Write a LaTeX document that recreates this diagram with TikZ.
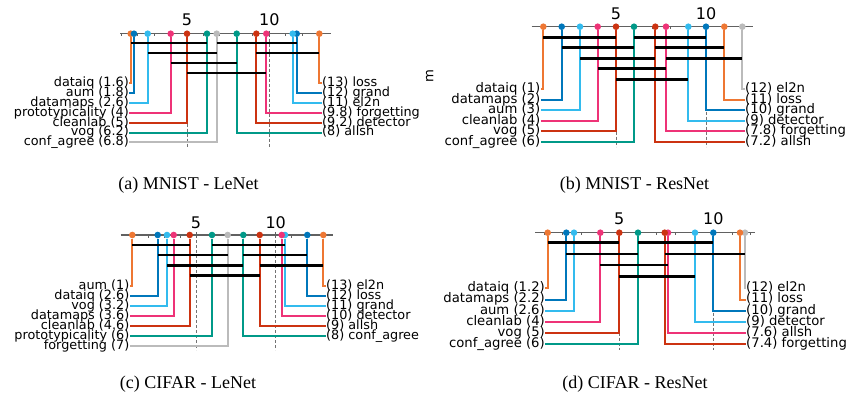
\documentclass[tikz,border=0pt]{standalone}
\usepackage{fontspec}
\setmainfont{DejaVu Sans}
\newfontfamily\capfont{Liberation Serif}
\usetikzlibrary{positioning}
\definecolor{tolorange}{HTML}{EE7733}
\definecolor{tolblue}{HTML}{0077BB}
\definecolor{tolcyan}{HTML}{33BBEE}
\definecolor{tolmagenta}{HTML}{EE3377}
\definecolor{tolred}{HTML}{CC3311}
\definecolor{tolteal}{HTML}{009988}
\definecolor{tolgrey}{HTML}{BBBBBB}

\begin{document}
\begin{tikzpicture}[x=1pt, y=-1pt,
    dot/.style={circle, fill=#1, inner sep=0pt, minimum size=6.6pt},
    link/.style={draw=#1, line width=2pt},
    clique/.style={line width=2.8pt},
    guide/.style={black!55, densely dashed, line width=0.6pt},
    axisline/.style={black!62, line width=1.5pt},
    tickmark/.style={black!62, line width=1pt},
    rowlab/.style={font=\fontsize{#1}{#1}\selectfont, inner sep=0pt, text height=0.66em, text depth=0em},
    ticklab/.style={font=\fontsize{16}{16}\selectfont, inner sep=0pt},
    caption/.style={font=\capfont\fontsize{18}{18}\selectfont, inner sep=0pt}]
    \path[use as bounding box, fill=white] (0,0) rectangle (849,400);

    % (a) MNIST - LeNet
    \coordinate (a-axl) at (120,33.7);
    \coordinate (a-axr) at (331,33.7);
    \coordinate (a-end) at (0,148);
    \node (a-5) [ticklab] at (187,20) {5};
    \node (a-10) [ticklab] at (269.3,20) {10};
    \draw[guide] (a-5 |- a-axl) -- (a-5 |- a-end);
    \draw[guide] (a-10 |- a-axl) -- (a-10 |- a-end);
    \draw[axisline] (a-axl) -- (a-axr);
    \draw[tickmark] (121.1,33.7) -- ++(0,2.5) (137.6,33.7) -- ++(0,2.5) (154.1,33.7) -- ++(0,2.5)
        (170.5,33.7) -- ++(0,2.5) (187,30.7) -- ++(0,6) (203.5,33.7) -- ++(0,2.5) (219.9,33.7) -- ++(0,2.5)
        (236.4,33.7) -- ++(0,2.5) (252.9,33.7) -- ++(0,2.5) (269.3,30.7) -- ++(0,6) (285.8,33.7) -- ++(0,2.5)
        (302.3,33.7) -- ++(0,2.5) (318.8,33.7) -- ++(0,2.5);

    \node (a-dataiq) [dot=tolorange] at (130.7,33.7) {};
    \node (a-aum) [dot=tolblue] at (134,33.7) {};
    \node (a-datamaps) [dot=tolcyan] at (147.7,33.7) {};
    \node (a-proto) [dot=tolmagenta] at (170.7,33.7) {};
    \node (a-cleanlab) [dot=tolred] at (187,33.7) {};
    \node (a-vog) [dot=tolteal] at (207,33.7) {};
    \node (a-confagree) [dot=tolgrey] at (216.7,33.7) {};
    \node (a-loss) [dot=tolorange] at (319.3,33.7) {};
    \node (a-grand) [dot=tolblue] at (296.7,33.7) {};
    \node (a-el2n) [dot=tolcyan] at (292.7,33.7) {};
    \node (a-forgetting) [dot=tolmagenta] at (266.3,33.7) {};
    \node (a-detector) [dot=tolred] at (256.3,33.7) {};
    \node (a-allsh) [dot=tolteal] at (236.7,33.7) {};

    \node (a-dataiq-t) [rowlab=12.8, anchor=east] at (129,83) {dataiq (1.6)};
    \node (a-aum-t) [rowlab=12.8, anchor=east] at (129,93) {aum (1.8)};
    \node (a-datamaps-t) [rowlab=12.8, anchor=east] at (129,103) {datamaps (2.6)};
    \node (a-proto-t) [rowlab=12.8, anchor=east] at (129,113) {prototypicality (4)};
    \node (a-cleanlab-t) [rowlab=12.8, anchor=east] at (129,123) {cleanlab (5)};
    \node (a-vog-t) [rowlab=12.8, anchor=east] at (129,132.5) {vog (6.2)};
    \node (a-confagree-t) [rowlab=12.8, anchor=east] at (129,142) {conf\_agree (6.8)};
    \node (a-loss-t) [rowlab=12.8, anchor=west] at (322,83) {(13) loss};
    \node (a-grand-t) [rowlab=12.8, anchor=west] at (322,93) {(12) grand};
    \node (a-el2n-t) [rowlab=12.8, anchor=west] at (322,103) {(11) el2n};
    \node (a-forgetting-t) [rowlab=12.8, anchor=west] at (322,113) {(9.8) forgetting};
    \node (a-detector-t) [rowlab=12.8, anchor=west] at (322,123) {(9.2) detector};
    \node (a-allsh-t) [rowlab=12.8, anchor=west] at (322,132.5) {(8) allsh};

    \draw[link=tolorange] (a-dataiq) |- (a-dataiq-t);
    \draw[link=tolblue] (a-aum) |- (a-aum-t);
    \draw[link=tolcyan] (a-datamaps) |- (a-datamaps-t);
    \draw[link=tolmagenta] (a-proto) |- (a-proto-t);
    \draw[link=tolred] (a-cleanlab) |- (a-cleanlab-t);
    \draw[link=tolteal] (a-vog) |- (a-vog-t);
    \draw[link=tolgrey] (a-confagree) |- (a-confagree-t);
    \draw[link=tolorange] (a-loss) |- (a-loss-t);
    \draw[link=tolblue] (a-grand) |- (a-grand-t);
    \draw[link=tolcyan] (a-el2n) |- (a-el2n-t);
    \draw[link=tolmagenta] (a-forgetting) |- (a-forgetting-t);
    \draw[link=tolred] (a-detector) |- (a-detector-t);
    \draw[link=tolteal] (a-allsh) |- (a-allsh-t);

    \coordinate (a-r1) at (0,43);
    \coordinate (a-r2) at (0,53);
    \coordinate (a-r3) at (0,63);
    \coordinate (a-r4) at (0,73);
    \draw[clique] (a-dataiq |- a-r1) -- (a-vog |- a-r1);
    \draw[clique] (a-confagree |- a-r1) -- (a-grand |- a-r1);
    \draw[clique] (a-datamaps |- a-r2) -- (a-confagree |- a-r2);
    \draw[clique] (a-detector |- a-r2) -- (a-loss |- a-r2);
    \draw[clique] (a-proto |- a-r3) -- (a-allsh |- a-r3);
    \draw[clique] (a-cleanlab |- a-r4) -- (a-forgetting |- a-r4);

    \node (a-cap) [caption] at (188.5,185) {(a) MNIST - LeNet};

    % (b) MNIST - ResNet
    \coordinate (b-axl) at (531.5,26.7);
    \coordinate (b-axr) at (753,26.7);
    \coordinate (b-end) at (0,146.7);
    \node (b-5) [ticklab] at (616,13.7) {5};
    \node (b-10) [ticklab] at (706,13.7) {10};
    \draw[guide] (b-5 |- b-axl) -- (b-5 |- b-end);
    \draw[guide] (b-10 |- b-axl) -- (b-10 |- b-end);
    \draw[axisline] (b-axl) -- (b-axr);
    \draw[tickmark] (544,26.7) -- ++(0,2.5) (562,26.7) -- ++(0,2.5) (580,26.7) -- ++(0,2.5)
        (598,26.7) -- ++(0,2.5) (616,23.7) -- ++(0,6) (634,26.7) -- ++(0,2.5) (652,26.7) -- ++(0,2.5)
        (670,26.7) -- ++(0,2.5) (688,26.7) -- ++(0,2.5) (706,23.7) -- ++(0,6) (724,26.7) -- ++(0,2.5)
        (742,26.7) -- ++(0,2.5);
    \node (b-m) [rowlab=13.2, rotate=90] at (430,76) {m};

    \node (b-dataiq) [dot=tolorange] at (543.3,26.7) {};
    \node (b-datamaps) [dot=tolblue] at (561.7,26.7) {};
    \node (b-aum) [dot=tolcyan] at (580,26.7) {};
    \node (b-cleanlab) [dot=tolmagenta] at (597.7,26.7) {};
    \node (b-vog) [dot=tolred] at (616,26.7) {};
    \node (b-confagree) [dot=tolteal] at (634,26.7) {};
    \node (b-el2n) [dot=tolgrey] at (742.3,26.7) {};
    \node (b-loss) [dot=tolorange] at (724.3,26.7) {};
    \node (b-grand) [dot=tolblue] at (706,26.7) {};
    \node (b-detector) [dot=tolcyan] at (688.3,26.7) {};
    \node (b-forgetting) [dot=tolmagenta] at (666,26.7) {};
    \node (b-allsh) [dot=tolred] at (655.3,26.7) {};

    \node (b-dataiq-t) [rowlab=13.2, anchor=east] at (540.5,89.3) {dataiq (1)};
    \node (b-datamaps-t) [rowlab=13.2, anchor=east] at (540.5,99.8) {datamaps (2)};
    \node (b-aum-t) [rowlab=13.2, anchor=east] at (540.5,110.3) {aum (3)};
    \node (b-cleanlab-t) [rowlab=13.2, anchor=east] at (540.5,120.8) {cleanlab (4)};
    \node (b-vog-t) [rowlab=13.2, anchor=east] at (540.5,131.3) {vog (5)};
    \node (b-confagree-t) [rowlab=13.2, anchor=east] at (540.5,141.8) {conf\_agree (6)};
    \node (b-el2n-t) [rowlab=13.2, anchor=west] at (745,89.3) {(12) el2n};
    \node (b-loss-t) [rowlab=13.2, anchor=west] at (745,99.8) {(11) loss};
    \node (b-grand-t) [rowlab=13.2, anchor=west] at (745,110.3) {(10) grand};
    \node (b-detector-t) [rowlab=13.2, anchor=west] at (745,120.8) {(9) detector};
    \node (b-forgetting-t) [rowlab=13.2, anchor=west] at (745,131.3) {(7.8) forgetting};
    \node (b-allsh-t) [rowlab=13.2, anchor=west] at (745,141.8) {(7.2) allsh};

    \draw[link=tolorange] (b-dataiq) |- (b-dataiq-t);
    \draw[link=tolblue] (b-datamaps) |- (b-datamaps-t);
    \draw[link=tolcyan] (b-aum) |- (b-aum-t);
    \draw[link=tolmagenta] (b-cleanlab) |- (b-cleanlab-t);
    \draw[link=tolred] (b-vog) |- (b-vog-t);
    \draw[link=tolteal] (b-confagree) |- (b-confagree-t);
    \draw[link=tolgrey] (b-el2n) |- (b-el2n-t);
    \draw[link=tolorange] (b-loss) |- (b-loss-t);
    \draw[link=tolblue] (b-grand) |- (b-grand-t);
    \draw[link=tolcyan] (b-detector) |- (b-detector-t);
    \draw[link=tolmagenta] (b-forgetting) |- (b-forgetting-t);
    \draw[link=tolred] (b-allsh) |- (b-allsh-t);

    \coordinate (b-r1) at (0,37.3);
    \coordinate (b-r2) at (0,47.7);
    \coordinate (b-r3) at (0,58.3);
    \coordinate (b-r4) at (0,68.7);
    \coordinate (b-r5) at (0,79.3);
    \draw[clique] (b-dataiq |- b-r1) -- (b-vog |- b-r1);
    \draw[clique] (b-confagree |- b-r1) -- (b-grand |- b-r1);
    \draw[clique] (b-datamaps |- b-r2) -- (b-confagree |- b-r2);
    \draw[clique] (b-allsh |- b-r2) -- (b-loss |- b-r2);
    \draw[clique] (b-aum |- b-r3) -- (b-allsh |- b-r3);
    \draw[clique] (b-forgetting |- b-r3) -- (b-el2n |- b-r3);
    \draw[clique] (b-cleanlab |- b-r4) -- (b-forgetting |- b-r4);
    \draw[clique] (b-vog |- b-r5) -- (b-detector |- b-r5);

    \node (b-cap) [caption] at (634.5,185) {(b) MNIST - ResNet};

    % (c) CIFAR - LeNet
    \coordinate (c-axl) at (120.7,235);
    \coordinate (c-axr) at (333.3,235);
    \coordinate (c-end) at (0,350);
    \node (c-5) [ticklab] at (196,222.3) {5};
    \node (c-10) [ticklab] at (275.7,222.3) {10};
    \draw[guide] (c-5 |- c-axl) -- (c-5 |- c-end);
    \draw[guide] (c-10 |- c-axl) -- (c-10 |- c-end);
    \draw[axisline] (c-axl) -- (c-axr);
    \draw[tickmark] (132.3,235) -- ++(0,2.5) (148.2,235) -- ++(0,2.5) (164.1,235) -- ++(0,2.5)
        (180.1,235) -- ++(0,2.5) (196,232) -- ++(0,6) (211.9,235) -- ++(0,2.5) (227.9,235) -- ++(0,2.5)
        (243.8,235) -- ++(0,2.5) (259.7,235) -- ++(0,2.5) (275.7,232) -- ++(0,6) (291.6,235) -- ++(0,2.5)
        (307.5,235) -- ++(0,2.5) (323.4,235) -- ++(0,2.5);

    \node (c-aum) [dot=tolorange] at (132.3,235) {};
    \node (c-dataiq) [dot=tolblue] at (157.7,235) {};
    \node (c-vog) [dot=tolcyan] at (167,235) {};
    \node (c-datamaps) [dot=tolmagenta] at (173.7,235) {};
    \node (c-cleanlab) [dot=tolred] at (189.7,235) {};
    \node (c-proto) [dot=tolteal] at (212,235) {};
    \node (c-forgetting) [dot=tolgrey] at (227.7,235) {};
    \node (c-el2n) [dot=tolorange] at (323.3,235) {};
    \node (c-loss) [dot=tolblue] at (307.3,235) {};
    \node (c-grand) [dot=tolcyan] at (285,235) {};
    \node (c-detector) [dot=tolmagenta] at (281.7,235) {};
    \node (c-allsh) [dot=tolred] at (259.7,235) {};
    \node (c-confagree) [dot=tolteal] at (243.3,235) {};

    \node (c-aum-t) [rowlab=12.8, anchor=east] at (129.5,286) {aum (1)};
    \node (c-dataiq-t) [rowlab=12.8, anchor=east] at (129.5,296) {dataiq (2.6)};
    \node (c-vog-t) [rowlab=12.8, anchor=east] at (129.5,306) {vog (3.2)};
    \node (c-datamaps-t) [rowlab=12.8, anchor=east] at (129.5,316) {datamaps (3.6)};
    \node (c-cleanlab-t) [rowlab=12.8, anchor=east] at (129.5,326) {cleanlab (4.6)};
    \node (c-proto-t) [rowlab=12.8, anchor=east] at (129.5,336) {prototypicality (6)};
    \node (c-forgetting-t) [rowlab=12.8, anchor=east] at (129.5,346) {forgetting (7)};
    \node (c-el2n-t) [rowlab=12.8, anchor=west] at (326,286) {(13) el2n};
    \node (c-loss-t) [rowlab=12.8, anchor=west] at (326,296) {(12) loss};
    \node (c-grand-t) [rowlab=12.8, anchor=west] at (326,306) {(11) grand};
    \node (c-detector-t) [rowlab=12.8, anchor=west] at (326,316) {(10) detector};
    \node (c-allsh-t) [rowlab=12.8, anchor=west] at (326,326) {(9) allsh};
    \node (c-confagree-t) [rowlab=12.8, anchor=west] at (326,336) {(8) conf\_agree};

    \draw[link=tolorange] (c-aum) |- (c-aum-t);
    \draw[link=tolblue] (c-dataiq) |- (c-dataiq-t);
    \draw[link=tolcyan] (c-vog) |- (c-vog-t);
    \draw[link=tolmagenta] (c-datamaps) |- (c-datamaps-t);
    \draw[link=tolred] (c-cleanlab) |- (c-cleanlab-t);
    \draw[link=tolteal] (c-proto) |- (c-proto-t);
    \draw[link=tolgrey] (c-forgetting) |- (c-forgetting-t);
    \draw[link=tolorange] (c-el2n) |- (c-el2n-t);
    \draw[link=tolblue] (c-loss) |- (c-loss-t);
    \draw[link=tolcyan] (c-grand) |- (c-grand-t);
    \draw[link=tolmagenta] (c-detector) |- (c-detector-t);
    \draw[link=tolred] (c-allsh) |- (c-allsh-t);
    \draw[link=tolteal] (c-confagree) |- (c-confagree-t);

    \coordinate (c-r1) at (0,245);
    \coordinate (c-r2) at (0,255);
    \coordinate (c-r3) at (0,265.3);
    \coordinate (c-r4) at (0,275.3);
    \draw[clique] (c-aum |- c-r1) -- (c-cleanlab |- c-r1);
    \draw[clique] (c-proto |- c-r1) -- (c-grand |- c-r1);
    \draw[clique] (c-dataiq |- c-r2) -- (c-forgetting |- c-r2);
    \draw[clique] (c-confagree |- c-r2) -- (c-loss |- c-r2);
    \draw[clique] (c-vog |- c-r3) -- (c-confagree |- c-r3);
    \draw[clique] (c-allsh |- c-r3) -- (c-el2n |- c-r3);
    \draw[clique] (c-cleanlab |- c-r4) -- (c-allsh |- c-r4);

    \node (c-cap) [caption] at (188,384) {(c) CIFAR - LeNet};

    % (d) CIFAR - ResNet
    \coordinate (d-axl) at (535,232.7);
    \coordinate (d-axr) at (755,232.7);
    \coordinate (d-end) at (0,350);
    \node (d-5) [ticklab] at (619.3,218.3) {5};
    \node (d-10) [ticklab] at (713.3,218.3) {10};
    \draw[guide] (d-5 |- d-axl) -- (d-5 |- d-end);
    \draw[guide] (d-10 |- d-axl) -- (d-10 |- d-end);
    \draw[axisline] (d-axl) -- (d-axr);
    \draw[tickmark] (544.1,232.7) -- ++(0,2.5) (562.9,232.7) -- ++(0,2.5) (581.7,232.7) -- ++(0,2.5)
        (600.5,232.7) -- ++(0,2.5) (619.3,229.7) -- ++(0,6) (638.1,232.7) -- ++(0,2.5) (656.9,232.7) -- ++(0,2.5)
        (675.7,232.7) -- ++(0,2.5) (694.5,232.7) -- ++(0,2.5) (713.3,229.7) -- ++(0,6) (732.1,232.7) -- ++(0,2.5)
        (750.9,232.7) -- ++(0,2.5);

    \node (d-dataiq) [dot=tolorange] at (547.7,232.7) {};
    \node (d-datamaps) [dot=tolblue] at (566.3,232.7) {};
    \node (d-aum) [dot=tolcyan] at (574,232.7) {};
    \node (d-cleanlab) [dot=tolmagenta] at (600.3,232.7) {};
    \node (d-vog) [dot=tolred] at (619.3,232.7) {};
    \node (d-confagree) [dot=tolteal] at (638,232.7) {};
    \node (d-el2n) [dot=tolgrey] at (745,232.7) {};
    \node (d-loss) [dot=tolorange] at (740,232.7) {};
    \node (d-grand) [dot=tolblue] at (713.3,232.7) {};
    \node (d-detector) [dot=tolcyan] at (695,232.7) {};
    \node (d-allsh) [dot=tolmagenta] at (668,232.7) {};
    \node (d-forgetting) [dot=tolred] at (664.7,232.7) {};

    \node (d-dataiq-t) [rowlab=13.2, anchor=east] at (545,288.3) {dataiq (1.2)};
    \node (d-datamaps-t) [rowlab=13.2, anchor=east] at (545,299.5) {datamaps (2.2)};
    \node (d-aum-t) [rowlab=13.2, anchor=east] at (545,310.7) {aum (2.6)};
    \node (d-cleanlab-t) [rowlab=13.2, anchor=east] at (545,321.9) {cleanlab (4)};
    \node (d-vog-t) [rowlab=13.2, anchor=east] at (545,333.1) {vog (5)};
    \node (d-confagree-t) [rowlab=13.2, anchor=east] at (545,344.3) {conf\_agree (6)};
    \node (d-el2n-t) [rowlab=13.2, anchor=west] at (746,288.3) {(12) el2n};
    \node (d-loss-t) [rowlab=13.2, anchor=west] at (746,299.5) {(11) loss};
    \node (d-grand-t) [rowlab=13.2, anchor=west] at (746,310.7) {(10) grand};
    \node (d-detector-t) [rowlab=13.2, anchor=west] at (746,321.9) {(9) detector};
    \node (d-allsh-t) [rowlab=13.2, anchor=west] at (746,333.1) {(7.6) allsh};
    \node (d-forgetting-t) [rowlab=13.2, anchor=west] at (746,344.3) {(7.4) forgetting};

    \draw[link=tolorange] (d-dataiq) |- (d-dataiq-t);
    \draw[link=tolblue] (d-datamaps) |- (d-datamaps-t);
    \draw[link=tolcyan] (d-aum) |- (d-aum-t);
    \draw[link=tolmagenta] (d-cleanlab) |- (d-cleanlab-t);
    \draw[link=tolred] (d-vog) |- (d-vog-t);
    \draw[link=tolteal] (d-confagree) |- (d-confagree-t);
    \draw[link=tolgrey] (d-el2n) |- (d-el2n-t);
    \draw[link=tolorange] (d-loss) |- (d-loss-t);
    \draw[link=tolblue] (d-grand) |- (d-grand-t);
    \draw[link=tolcyan] (d-detector) |- (d-detector-t);
    \draw[link=tolmagenta] (d-allsh) |- (d-allsh-t);
    \draw[link=tolred] (d-forgetting) |- (d-forgetting-t);

    \coordinate (d-r1) at (0,242.7);
    \coordinate (d-r2) at (0,254);
    \coordinate (d-r3) at (0,265);
    \coordinate (d-r4) at (0,276.7);
    \draw[clique] (d-dataiq |- d-r1) -- (d-vog |- d-r1);
    \draw[clique] (d-confagree |- d-r1) -- (d-grand |- d-r1);
    \draw[clique] (d-datamaps |- d-r2) -- (d-confagree |- d-r2);
    \draw[clique] (d-forgetting |- d-r2) -- (d-el2n |- d-r2);
    \draw[clique] (d-cleanlab |- d-r3) -- (d-allsh |- d-r3);
    \draw[clique] (d-vog |- d-r4) -- (d-detector |- d-r4);

    \node (d-cap) [caption] at (635,384) {(d) CIFAR - ResNet};
\end{tikzpicture}
\end{document}
